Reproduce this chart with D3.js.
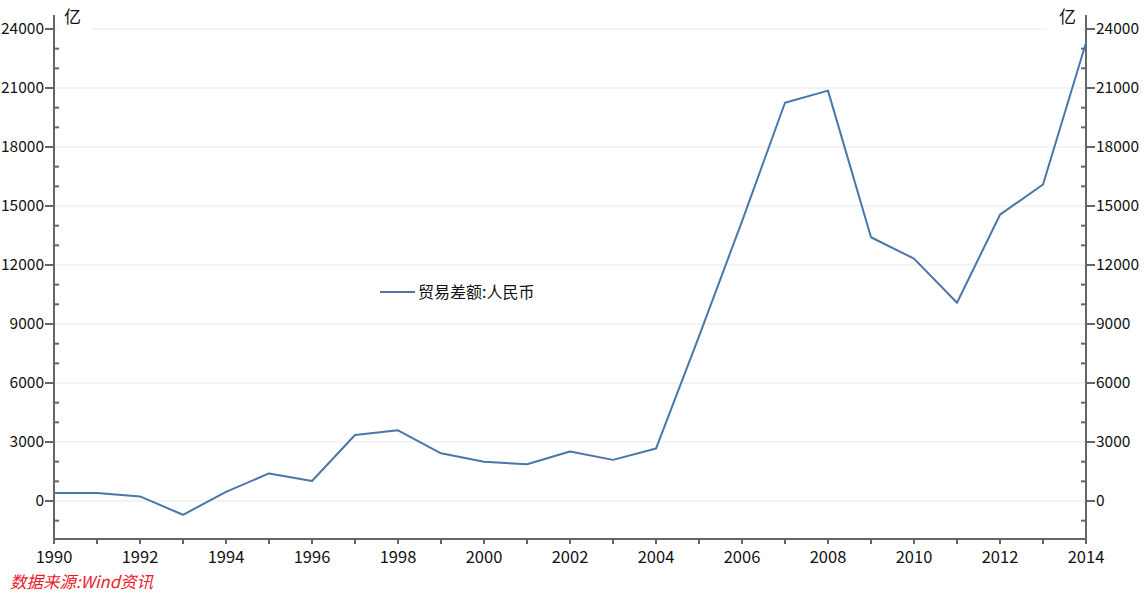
<!DOCTYPE html>
<html><head><meta charset="utf-8">
<script src="https://cdn.jsdelivr.net/npm/d3@7"></script>
<style>body{margin:0;background:#fff}svg{display:block}text{font-family:"Noto Sans CJK SC","Noto Sans",sans-serif}</style>
</head><body><svg id="c" width="1146" height="596"></svg>
<script>
const years = [1990,1991,1992,1993,1994,1995,1996,1997,1998,1999,2000,2001,2002,2003,2004,2005,2006,2007,2008,2009,2010,2011,2012,2013,2014];
const balance = [411,410,233,-701,462,1403,1019,3355,3597,2423,1995,1865,2518,2092,2668,8374,14220,20250,20868,13411,12323,10079,14558,16094,23300];
const yTicks = [0,3000,6000,9000,12000,15000,18000,21000,24000];
const xTicks = [1990,1992,1994,1996,1998,2000,2002,2004,2006,2008,2010,2012,2014];
const seriesName = "贸易差额:人民币";
const unit = "亿";
const source = "数据来源:Wind资讯";

const svg = d3.select("#c");
const L = 54, R = 1086, T = 15, B = 539;
const x = d3.scaleLinear().domain([1990,2014]).range([L,R]);
const y = d3.scaleLinear().domain([0,24000]).range([501,29]);
const yMin = y.invert(B);
const axisCol = "#666";

// gridlines
svg.append("g").selectAll("line").data(yTicks).join("line")
  .attr("x1",L).attr("x2",R).attr("y1",d=>y(d)).attr("y2",d=>y(d))
  .attr("stroke","#e8e8e8").attr("stroke-width",1);

const minorY = d3.range(-1000, 24001, 1000).filter(v=>v>=yMin && v%3000!==0);
const minorX = years.filter(v=>v%2!==0);

function yAxis(side){
  const g = svg.append("g").attr("transform",`translate(${side==="left"?L:R},0)`);
  const dir = side==="left"?-1:1;
  g.append("line").attr("x1",0).attr("x2",0).attr("y1",T).attr("y2",B).attr("stroke",axisCol).attr("stroke-width",2);
  g.selectAll(".mj").data(yTicks).join("line").attr("x1",0).attr("x2",dir*9).attr("y1",d=>y(d)).attr("y2",d=>y(d)).attr("stroke",axisCol).attr("stroke-width",2);
  g.selectAll(".mn").data(minorY).join("line").attr("x1",0).attr("x2",-dir*5).attr("y1",d=>y(d)).attr("y2",d=>y(d)).attr("stroke",axisCol).attr("stroke-width",2);
  g.selectAll("text").data(yTicks).join("text").attr("x",dir*10).attr("y",d=>y(d)).attr("dy","0.35em")
    .attr("text-anchor",side==="left"?"end":"start").attr("font-size",15.5).attr("fill","#111").text(d=>d);
}
yAxis("left"); yAxis("right");

// x axis
const gx = svg.append("g").attr("transform",`translate(0,${B})`);
gx.append("line").attr("x1",L).attr("x2",R).attr("stroke",axisCol).attr("stroke-width",2);
gx.selectAll(".mj").data(xTicks.concat(minorX)).join("line").attr("x1",d=>x(d)).attr("x2",d=>x(d)).attr("y1",0).attr("y2",5).attr("stroke",axisCol).attr("stroke-width",2);
gx.selectAll("text").data(xTicks).join("text").attr("x",d=>x(d)).attr("y",24).attr("text-anchor","middle").attr("font-size",16.5).attr("fill","#111").text(d=>d);

// unit labels with white background
[[L+6,"start",L+4],[R-6,"end",R-40]].forEach(([tx,anc,rx])=>{
  svg.append("rect").attr("x",rx).attr("y",20).attr("width",34).attr("height",16).attr("fill","#fff");
  svg.append("text").attr("x",tx+ (anc==="start"?4:-4)).attr("y",23).attr("text-anchor",anc).attr("font-size",17).attr("fill","#111").text(unit);
});

// line
svg.append("path").datum(years.map((d,i)=>[d,balance[i]]))
  .attr("d",d3.line().x(d=>x(d[0])).y(d=>y(d[1])))
  .attr("fill","none").attr("stroke","#4a76a8").attr("stroke-width",2).attr("stroke-linejoin","round");

// legend
svg.append("line").attr("x1",380).attr("x2",415).attr("y1",292).attr("y2",292).attr("stroke","#4a76a8").attr("stroke-width",2);
svg.append("text").attr("x",418).attr("y",292).attr("dy","0.35em").attr("font-size",16).attr("fill","#111").text(seriesName);

// source
svg.append("text").attr("x",10).attr("y",588).attr("font-size",16.5).attr("font-style","italic").attr("fill","#e8202a").text(source);
</script></body></html>
